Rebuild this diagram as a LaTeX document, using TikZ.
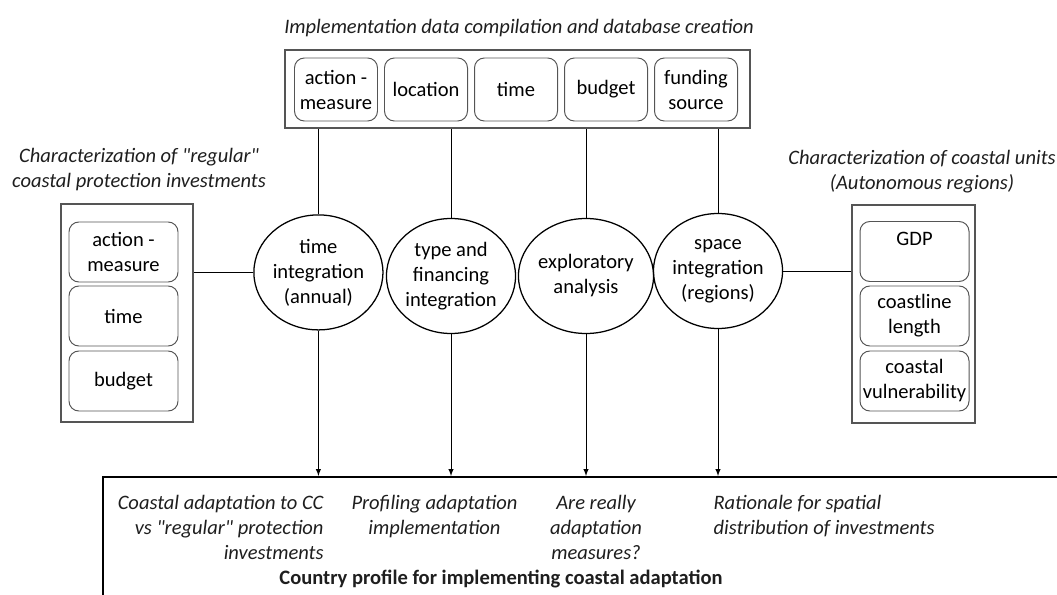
\documentclass[tikz,border=0pt]{standalone}
\usepackage{fontspec}
\setmainfont{Carlito}[Ligatures=TeXOff]
\usetikzlibrary{shapes.geometric}

\definecolor{boxgray}{RGB}{85,85,85}
\definecolor{txtgray}{RGB}{30,30,30}
\newcommand\figfont{\fontsize{14.6}{17.8}\selectfont}

\tikzset{
  item/.style={draw=boxgray,rounded corners=7pt,minimum width=2.075cm,minimum height=1.575cm,align=center,inner sep=1pt},
  sideitem/.style={item,minimum width=2.725cm,minimum height=1.5cm},
  group/.style={draw=boxgray,line width=0.8pt},
  task/.style={ellipse,draw,line width=0.9pt,minimum width=3.05cm,minimum height=2.875cm,inner sep=0pt,align=center},
  title/.style={font=\figfont\itshape,align=center,text=txtgray},
  goal/.style={font=\figfont\itshape,text=txtgray,inner sep=0pt}
}

\begin{document}
\begin{tikzpicture}[font=\figfont,line width=0.7pt]
\useasboundingbox (0,0) rectangle (26.425,-14.875);
\begin{scope}[>=latex]

  % database on top
  \node (dbtitle) at (12.975,-0.7) [title]{Implementation data compilation and database creation};
  \node (db) at (12.9375,-2.225) [group,minimum width=11.625cm,minimum height=1.95cm]{};
  \node (t1) at (8.4,-2.2375) [item]{action -\\measure};
  \node (t2) at (10.65,-2.2375) [item]{location};
  \node (t3) at (12.9,-2.2375) [item]{time};
  \node (t4) at (15.15,-2.2375) [item]{budget};
  \node (t5) at (17.4,-2.2375) [item]{funding\\source};

  % "regular" investments
  \node (regtitle) at (3.475,-4.25) [title]{Characterization of "regular"\\coastal protection investments};
  \node (reg) at (3.175,-7.825) [group,minimum width=3.3cm,minimum height=5.45cm]{};
  \node (l1) at (3.0875,-6.3) [sideitem]{action -\\measure};
  \node (l2) at (3.0875,-7.9) [sideitem]{time};
  \node (l3) at (3.0875,-9.525) [sideitem]{budget};

  % coastal units
  \node (unittitle) at (23.05,-4.29) [title]{Characterization of coastal units\\(Autonomous regions)};
  \node (unit) at (22.8375,-7.85) [group,minimum width=3.075cm,minimum height=5.45cm]{};
  \node (r1) at (22.8625,-6.2875) [sideitem]{GDP\\\mbox{}};
  \node (r2) at (22.8625,-7.9) [sideitem]{coastline\\length};
  \node (r3) at (22.8625,-9.525) [sideitem]{coastal\\vulnerability};

  % integration steps
  \node (c1) at (7.96,-6.81) [task]{time\\integration\\(annual)};
  \node (c2) at (11.275,-6.9) [task]{type and\\financing\\integration};
  \node (c3) at (14.65,-6.9) [task]{exploratory\\analysis};
  \node (c4) at (17.95,-6.775) [task]{space\\integration\\(regions)};

  % country profile
  \node (prof) at (2.55,-11.9) [anchor=north west,draw,line width=1.4pt,minimum width=25cm,minimum height=4cm]{};
  \node (g1) at (8.1,-12.38) [goal,anchor=north east,align=right]{Coastal adaptation to CC\\vs "regular" protection\\investments};
  \node (g2) at (10.8625,-12.38) [goal,anchor=north,align=center]{Profiling adaptation\\implementation};
  \node (g3) at (14.9,-12.38) [goal,anchor=north,align=center]{Are really\\adaptation\\measures?};
  \node (g4) at (17.825,-12.38) [goal,anchor=north west,align=left]{Rationale for spatial\\distribution of investments};
  \node (country) at (12.525,-14.6) [anchor=base,font=\figfont\bfseries,text=txtgray]{Country profile for implementing coastal adaptation};

  \draw (c1.north) -- (c1.north |- db.south);
  \draw (c2.north) -- (c2.north |- db.south);
  \draw (c3.north) -- (c3.north |- db.south);
  \draw (c4.north) -- (c4.north |- db.south);

  \draw (c1.west) -- (c1.west -| reg.east);
  \draw (c4.east) -- (c4.east -| unit.west);

  \draw[->] (c1.south) -- (c1.south |- prof.north);
  \draw[->] (c2.south) -- (c2.south |- prof.north);
  \draw[->] (c3.south) -- (c3.south |- prof.north);
  \draw[->] (c4.south) -- (c4.south |- prof.north);

\end{scope}
\end{tikzpicture}
\end{document}
